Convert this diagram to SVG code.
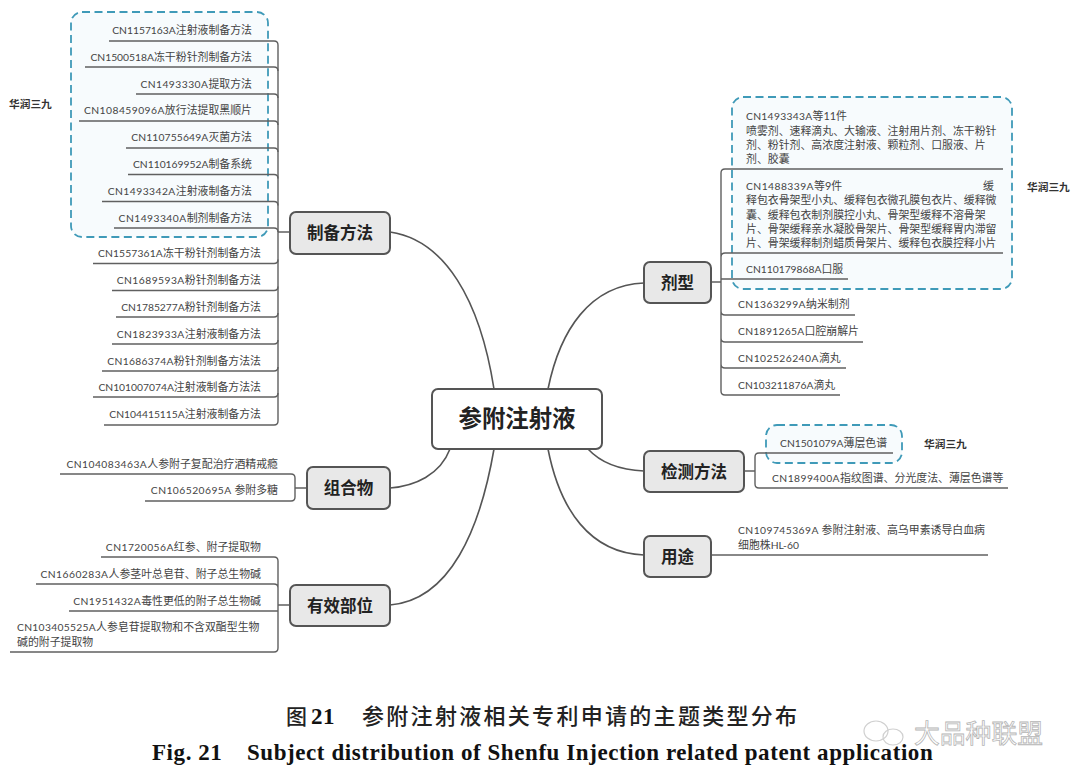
<svg xmlns="http://www.w3.org/2000/svg" width="1080" height="782" viewBox="0 0 1080 782">
<style>
text{font-family:"Lato","Noto Sans CJK SC",sans-serif}
.t{font-size:10.9px;fill:#444}
.e{text-anchor:end}
.n{font-size:10.3px}
.s1{letter-spacing:.15px}
.s2{letter-spacing:.3px}
.s3{letter-spacing:.45px}
.h{font-size:16.5px;font-weight:700;fill:#222;text-anchor:middle}
.b{fill:#e8e8e8;stroke:#555;stroke-width:2}
.d{fill:#f7fbfd;stroke:#3f9ab8;stroke-width:1.8;stroke-dasharray:8 4.500}
.l{font-size:10.7px;font-weight:700;fill:#333}
.c{fill:none;stroke:#606060;stroke-width:1.4}
.m{fill:none;stroke:#555;stroke-width:1.6}
.cap{font-family:"Noto Sans CJK SC",sans-serif;font-size:22px;font-weight:500;fill:#222;letter-spacing:2.3px}
.en{font-family:"Liberation Serif",serif;font-weight:700;font-size:23px;letter-spacing:.57px;fill:#111}
</style>
<g id="groups">
<rect class="d" x="71" y="12" width="197" height="225" rx="11"/>
<rect class="d" x="732" y="97" width="280" height="192" rx="11"/>
<rect class="d" x="766" y="425" width="136" height="38" rx="11"/>
</g>
<g id="connectors">
<path class="m" d="M390,232C445,240 480,300 494,389"/>
<path class="m" d="M548,389C560,330 590,285 644,283"/>
<path class="m" d="M450,449C440,475 415,486 390,488"/>
<path class="m" d="M494,449C480,530 450,600 390,605"/>
<path class="m" d="M548,449C560,510 590,553 644,555"/>
<path class="m" d="M588,449C600,462 620,470 644,471"/>
<path class="c" d="M278,45V421M278,232H290"/>
<path class="c" d="M109,41H274Q278,41 278,45M85,67H274Q278,67 278,71M136,94H274Q278,94 278,98M79,121H274Q278,121 278,125M126,148H274Q278,148 278,152M128,174.500H274Q278,174.500 278,178.500M102,201.500H274Q278,201.500 278,205.500M114,228H274Q278,228 278,232"/>
<path class="c" d="M93,263.500H274Q278,263.500 278,259.500M112,290.500H274Q278,290.500 278,286.500M116,317H274Q278,317 278,313M112,344H274Q278,344 278,340M102,371H274Q278,371 278,367M93,397H274Q278,397 278,393M104,425H274Q278,425 278,421"/>
<path class="c" d="M60,474H291Q295,474 295,478V497Q295,501 291,501H145M295,488H307"/>
<path class="c" d="M101,557H274Q278,557 278,561V648Q278,652 274,652H10M36,584H274Q278,584 278,588M69,611H278M278,605H290"/>
<path class="c" d="M711,282H721M1003,169H725Q721,169 721,173V391Q721,395 725,395H840M1003,253H725Q721,253 721,257M721,279H848M855,315H725Q721,315 721,311M863,342H725Q721,342 721,338M846,368H725Q721,368 721,364"/>
<path class="c" d="M744,471H755M893,453H759Q755,453 755,457V484Q755,488 759,488H1008"/>
<path class="c" d="M711,555H988"/>
</g>
<g id="center"><rect x="432" y="389" width="170" height="60" rx="6" fill="#fff" stroke="#555" stroke-width="2"/><text x="517" y="427" font-size="23.400" font-weight="700" fill="#222" text-anchor="middle">参附注射液</text></g>
<g id="node-zhibei"><rect class="b" x="290" y="212" width="100" height="42" rx="6"/><text class="h" x="340" y="238.500">制备方法</text></g>
<g id="node-zuhe"><rect class="b" x="307" y="467" width="83" height="42" rx="6"/><text class="h" x="348.500" y="493.500">组合物</text></g>
<g id="node-youxiao"><rect class="b" x="290" y="585" width="100" height="41" rx="6"/><text class="h" x="340" y="611.500">有效部位</text></g>
<g id="node-jixing"><rect class="b" x="644" y="262" width="67" height="41" rx="6"/><text class="h" x="677.500" y="289">剂型</text></g>
<g id="node-jiance"><rect class="b" x="644" y="451" width="100" height="41" rx="6"/><text class="h" x="694" y="477.500">检测方法</text></g>
<g id="node-yongtu"><rect class="b" x="644" y="536" width="67" height="41" rx="6"/><text class="h" x="677.500" y="562.500">用途</text></g>
<g id="leaves-zhibei">
<text class="t e" x="252" y="34"><tspan class="n">CN1157163A</tspan>注射液制备方法</text>
<text class="t e" x="252" y="60.500"><tspan class="n">CN1500518A</tspan>冻干粉针剂制备方法</text>
<text class="t e" x="252" y="87.500"><tspan class="n s3">CN1493330A</tspan>提取方法</text>
<text class="t e" x="252" y="114"><tspan class="n s3">CN108459096A</tspan>放行法提取黑顺片</text>
<text class="t e" x="252" y="141"><tspan class="n s1">CN110755649A</tspan>灭菌方法</text>
<text class="t e" x="252" y="168"><tspan class="n">CN110169952A</tspan>制备系统</text>
<text class="t e" x="252" y="195"><tspan class="n s3">CN1493342A</tspan>注射液制备方法</text>
<text class="t e" x="252" y="222"><tspan class="n s3">CN1493340A</tspan>制剂制备方法</text>
<text class="t e" x="261" y="257"><tspan class="n s1">CN1557361A</tspan>冻干粉针剂制备方法</text>
<text class="t e" x="261" y="284"><tspan class="n s3">CN1689593A</tspan>粉针剂制备方法</text>
<text class="t e" x="261" y="310.500"><tspan class="n">CN1785277A</tspan>粉针剂制备方法</text>
<text class="t e" x="261" y="337.500"><tspan class="n s3">CN1823933A</tspan>注射液制备方法</text>
<text class="t e" x="261" y="364.500"><tspan class="n s2">CN1686374A</tspan>粉针剂制备方法法</text>
<text class="t e" x="261" y="391"><tspan class="n">CN101007074A</tspan>注射液制备方法法</text>
<text class="t e" x="261" y="418"><tspan class="n">CN104415115A</tspan>注射液制备方法</text>
</g>
<g id="leaves-zuhe">
<text class="t e" x="278" y="468"><tspan class="n s3">CN104083463A</tspan>人参附子复配治疗酒精戒瘾</text>
<text class="t e" x="278" y="494"><tspan class="n s3">CN106520695A </tspan>参附多糖</text>
</g>
<g id="leaves-youxiao">
<text class="t e" x="261" y="551"><tspan class="n s3">CN1720056A</tspan>红参、附子提取物</text>
<text class="t e" x="261" y="578"><tspan class="n s3">CN1660283A</tspan>人参茎叶总皂苷、附子总生物碱</text>
<text class="t e" x="261" y="605"><tspan class="n s3">CN1951432A</tspan>毒性更低的附子总生物碱</text>
<text class="t" x="17" y="631"><tspan class="n s2">CN103405525A</tspan>人参皂苷提取物和不含双酯型生物</text>
<text class="t" x="17" y="646">碱的附子提取物</text>
</g>
<g id="leaves-jixing">
<text class="t" x="746" y="120"><tspan class="n s2">CN1493343A</tspan>等11件</text>
<text class="t" x="746" y="135">喷雾剂、速释滴丸、大输液、注射用片剂、冻干粉针</text>
<text class="t" x="746" y="149">剂、粉针剂、高浓度注射液、颗粒剂、口服液、片</text>
<text class="t" x="746" y="163">剂、胶囊</text>
<text class="t" x="746" y="190"><tspan class="n s3">CN1488339A</tspan>等9件</text>
<text class="t" x="983" y="190">缓</text>
<text class="t" x="746" y="204">释包衣骨架型小丸、缓释包衣微孔膜包衣片、缓释微</text>
<text class="t" x="746" y="219">囊、缓释包衣制剂膜控小丸、骨架型缓释不溶骨架</text>
<text class="t" x="746" y="233">片、骨架缓释亲水凝胶骨架片、骨架型缓释胃内滞留</text>
<text class="t" x="746" y="247">片、骨架缓释制剂蜡质骨架片、缓释包衣膜控释小片</text>
<text class="t" x="746" y="273"><tspan class="n">CN110179868A</tspan>口服</text>
<text class="t" x="738" y="308"><tspan class="n s3">CN1363299A</tspan>纳米制剂</text>
<text class="t" x="738" y="335"><tspan class="n s2">CN1891265A</tspan>口腔崩解片</text>
<text class="t" x="738" y="362"><tspan class="n s3">CN102526240A</tspan>滴丸</text>
<text class="t" x="738" y="389"><tspan class="n">CN103211876A</tspan>滴丸</text>
</g>
<g id="leaves-jiance">
<text class="t" x="780" y="447"><tspan class="n">CN1501079A</tspan>薄层色谱</text>
<text class="t" x="772" y="482"><tspan class="n s3">CN1899400A</tspan>指纹图谱、分光度法、薄层色谱等</text>
</g>
<g id="leaves-yongtu">
<text class="t" x="738" y="534"><tspan class="n s3">CN109745369A </tspan>参附注射液、高乌甲素诱导白血病</text>
<text class="t" x="738" y="549">细胞株<tspan class="n">HL-60</tspan></text>
</g>
<g id="labels">
<text class="l" x="9" y="108">华润三九</text>
<text class="l" x="1027" y="191">华润三九</text>
<text class="l" x="924" y="448">华润三九</text>
</g>
<g id="watermark" fill="none" stroke="#d0d0d0" stroke-width="1.200">
<ellipse cx="876" cy="731" rx="12" ry="10"/>
<ellipse cx="893" cy="737" rx="10" ry="8"/>
<text x="914" y="743" font-size="25.800" fill="#fff" stroke="#b5b5b5" stroke-width=".8">大品种联盟</text>
</g>
<g id="caption">
<text x="286" y="724" font-family="Noto Sans CJK SC" font-size="21" font-weight="500" fill="#222">图</text>
<text x="311" y="724" class="en">21</text>
<text x="362" y="724" class="cap">参附注射液相关专利申请的主题类型分布</text>
<text x="152" y="760" class="en">Fig. 21</text>
<text x="247" y="760" class="en">Subject distribution of Shenfu Injection related patent application</text>
</g>
</svg>
